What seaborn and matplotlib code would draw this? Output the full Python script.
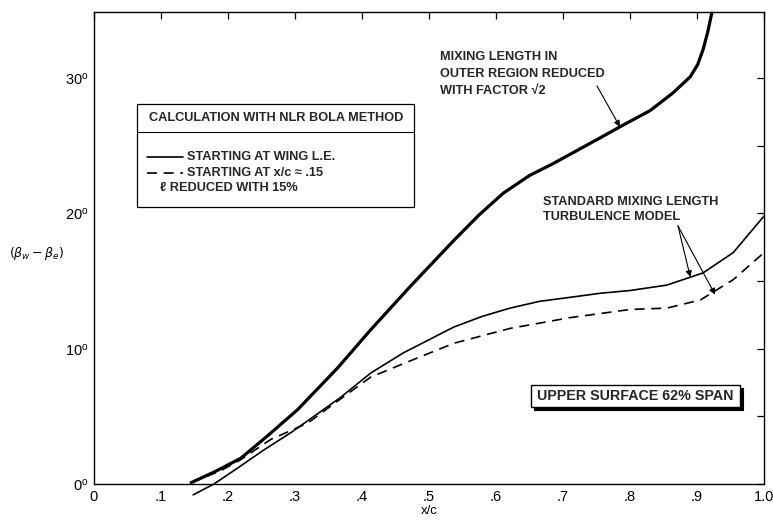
import matplotlib
matplotlib.use("Agg")
import matplotlib.pyplot as plt
import seaborn as sns
import pandas as pd
from matplotlib.patches import Rectangle
from matplotlib.lines import Line2D

# ---- data ----
x_reduced = [0.145, 0.18, 0.219, 0.26, 0.304, 0.364, 0.413, 0.472, 0.537, 0.575, 0.611,
             0.65, 0.686, 0.756, 0.785, 0.830, 0.864, 0.890, 0.901, 0.909, 0.916, 0.922]
y_reduced = [0.1, 0.9, 1.9, 3.6, 5.5, 8.6, 11.4, 14.6, 18.0, 19.9, 21.5,
             22.8, 23.7, 25.6, 26.4, 27.6, 28.9, 30.1, 31.0, 32.1, 33.4, 34.8]

x_standard = [0.148, 0.179, 0.215, 0.253, 0.294, 0.334, 0.368, 0.413, 0.462, 0.537,
              0.58, 0.621, 0.665, 0.711, 0.756, 0.800, 0.855, 0.879, 0.909, 0.954, 1.0]
y_standard = [-0.8, 0.0, 1.2, 2.5, 3.8, 5.2, 6.4, 8.2, 9.7, 11.6,
              12.4, 13.0, 13.5, 13.8, 14.1, 14.3, 14.7, 15.1, 15.6, 17.1, 19.8]

x_late = [0.145, 0.19, 0.219, 0.264, 0.319, 0.36, 0.413, 0.462, 0.537, 0.621,
          0.711, 0.756, 0.800, 0.855, 0.905, 0.954, 1.0]
y_late = [0.1, 1.0, 1.8, 3.3, 4.5, 6.0, 7.9, 8.9, 10.4, 11.5,
          12.3, 12.6, 12.9, 13.0, 13.6, 15.1, 17.1]

x_ticks = [0.0, 0.1, 0.2, 0.3, 0.4, 0.5, 0.6, 0.7, 0.8, 0.9, 1.0]
x_ticklabels = ["0", ".1", ".2", ".3", ".4", ".5", ".6", ".7", ".8", ".9", "1.0"]
y_ticks = [0, 10, 20, 30]
y_minor = [5, 15, 25]

legend_title = "CALCULATION WITH NLR BOLA METHOD"
legend_entry1 = "STARTING AT WING L.E."
legend_entry2 = "STARTING AT x/c \u2248 .15"
legend_entry2b = "\u2113 REDUCED WITH 15%"
note_reduced = ["MIXING LENGTH IN", "OUTER REGION REDUCED", "WITH FACTOR \u221a2"]
note_standard = ["STANDARD MIXING LENGTH", "TURBULENCE MODEL"]
note_box = "UPPER SURFACE 62% SPAN"

# ---- figure ----
sns.set_theme(style="white")
plt.rcParams['font.family'] = ['Liberation Sans', 'DejaVu Sans']
plt.rcParams['mathtext.fontset'] = 'dejavusans'

W, H = 773, 520
L, R, T, B = 94, 764, 12, 484
fig = plt.figure(figsize=(W / 100, H / 100), dpi=100)
ax = fig.add_axes([L / W, (H - B) / H, (R - L) / W, (B - T) / H])

def P(px, py):
    return ((px - L) / (R - L), (B - py) / (B - T))

df_red = pd.DataFrame({"x": x_reduced, "y": y_reduced})
df_std = pd.DataFrame({"x": x_standard, "y": y_standard})
df_late = pd.DataFrame({"x": x_late, "y": y_late})

sns.lineplot(data=df_red, x="x", y="y", ax=ax, color="black", linewidth=2.3,
             sort=False, estimator=None)
sns.lineplot(data=df_std, x="x", y="y", ax=ax, color="black", linewidth=1.2,
             sort=False, estimator=None)
sns.lineplot(data=df_late, x="x", y="y", ax=ax, color="black", linewidth=1.2,
             sort=False, estimator=None, linestyle=(0, (6, 4)))
for ln in ax.lines:
    ln.set_clip_on(False)
    ln.set_solid_joinstyle("round")
    ln.set_solid_capstyle("round")

ax.set_xlim(0, 1.0)
ax.set_ylim(0, (B - T) / 13.53)
ax.set_xticks(x_ticks)
ax.set_xticklabels(x_ticklabels)
ax.set_yticks(y_ticks)
ax.set_yticklabels([r"$\mathregular{%d^{o}}$" % v for v in y_ticks])
ax.set_yticks(y_minor, minor=True)
ax.tick_params(axis="both", which="both", direction="in", top=True, right=True,
               length=5, width=0.9, color="black", labelsize=10.5, labelcolor="black")
ax.tick_params(axis="x", pad=4)
ax.tick_params(axis="y", pad=4)
ax.set_xlabel("x/c", fontsize=9.5, labelpad=1, color="black")
ax.set_ylabel("")
for s in ax.spines.values():
    s.set_color("black")
    s.set_linewidth(1.0)
ax.set_facecolor("white")
fig.patch.set_facecolor("white")

fig.text(37 / W, 1 - 253 / H, r"$(\beta_w - \beta_e)$", ha="center", va="center",
         fontsize=9, color="black")

FS = 9.2
# ---- legend box ----
x0, y0 = P(137, 207)
x1, y1 = P(414, 104)
ax.add_patch(Rectangle((x0, y0), x1 - x0, y1 - y0, transform=ax.transAxes,
                       facecolor="white", edgecolor="black", linewidth=0.9, zorder=3))
_, hy = P(137, 132)
ax.add_line(Line2D([x0, x1], [hy, hy], transform=ax.transAxes, color="black",
                   linewidth=0.8, zorder=4))
tx, ty = P(276, 118)
ax.text(tx, ty, legend_title, transform=ax.transAxes, ha="center", va="center",
        fontsize=FS, fontweight="bold", zorder=5)
a, yy = P(147, 157)
b, _ = P(183, 157)
ax.add_line(Line2D([a, b], [yy, yy], transform=ax.transAxes, color="black",
                   linewidth=1.2, zorder=5))
t1x, _ = P(187, 157)
ax.text(t1x, yy, legend_entry1, transform=ax.transAxes, ha="left", va="center",
        fontsize=FS, fontweight="bold", zorder=5)
a, yy2 = P(147, 173)
ax.add_line(Line2D([a, b], [yy2, yy2], transform=ax.transAxes, color="black",
                   linewidth=1.2, linestyle=(0, (6, 4)), zorder=5))
ax.text(t1x, yy2, legend_entry2, transform=ax.transAxes, ha="left", va="center",
        fontsize=FS, fontweight="bold", zorder=5)
t2x, yy3 = P(160, 188)
ax.text(t2x, yy3, legend_entry2b, transform=ax.transAxes, ha="left", va="center",
        fontsize=FS, fontweight="bold", zorder=5)

# ---- curve notes ----
for line, py in zip(note_reduced, [57, 74, 91]):
    nx, ny = P(440, py)
    ax.text(nx, ny, line, transform=ax.transAxes, ha="left", va="center",
            fontsize=FS, fontweight="bold")
ax.annotate("", xy=(0.785, 26.4), xycoords="data",
            xytext=P(597, 86), textcoords="axes fraction",
            arrowprops=dict(arrowstyle="-|>", color="black", lw=0.8,
                            mutation_scale=9, shrinkA=0, shrinkB=0))

for line, py in zip(note_standard, [202, 217]):
    sx, sy = P(543, py)
    ax.text(sx, sy, line, transform=ax.transAxes, ha="left", va="center",
            fontsize=FS, fontweight="bold")
apex = P(678, 226)
ax.annotate("", xy=(0.89, 15.3), xycoords="data",
            xytext=apex, textcoords="axes fraction",
            arrowprops=dict(arrowstyle="-|>", color="black", lw=0.8,
                            mutation_scale=9, shrinkA=0, shrinkB=0))
ax.annotate("", xy=(0.927, 14.0), xycoords="data",
            xytext=apex, textcoords="axes fraction",
            arrowprops=dict(arrowstyle="-|>", color="black", lw=0.8,
                            mutation_scale=9, shrinkA=0, shrinkB=0))

# ---- span box with shadow ----
bx0, by0 = P(531, 407)
bx1, by1 = P(740, 385)
dx = 3 / (R - L)
dy = 3 / (B - T)
ax.add_patch(Rectangle((bx0 + dx, by0 - dy), bx1 - bx0, by1 - by0, transform=ax.transAxes,
                       facecolor="black", edgecolor="black", linewidth=0.8, zorder=3))
ax.add_patch(Rectangle((bx0, by0), bx1 - bx0, by1 - by0, transform=ax.transAxes,
                       facecolor="white", edgecolor="black", linewidth=1.0, zorder=4))
ax.text((bx0 + bx1) / 2, (by0 + by1) / 2, note_box, transform=ax.transAxes,
        ha="center", va="center", fontsize=10.3, fontweight="bold", zorder=5)

fig.savefig("out.png", dpi=100, facecolor="white")
